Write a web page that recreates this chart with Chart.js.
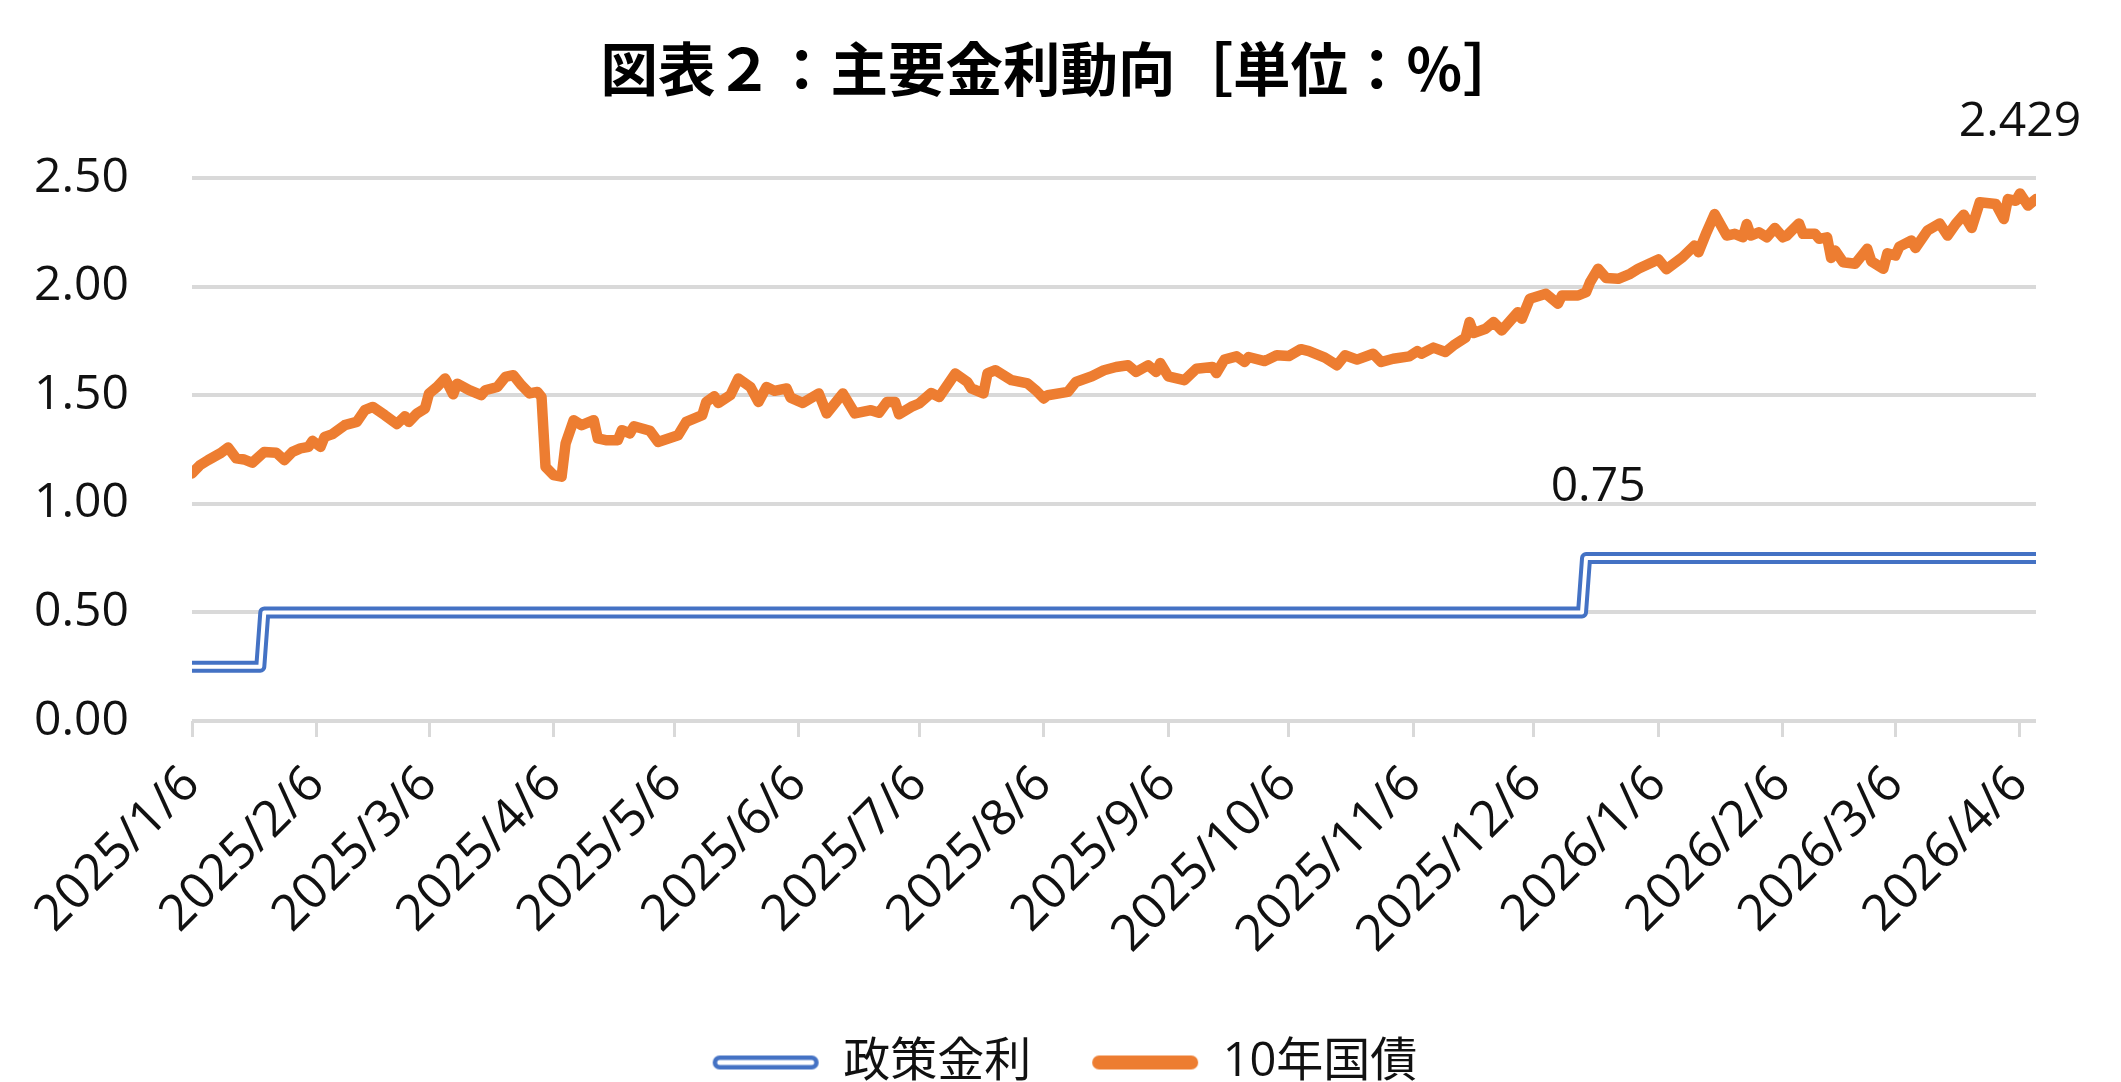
<!DOCTYPE html>
<html lang="ja">
<head>
<meta charset="utf-8">
<title>図表２：主要金利動向</title>
<script src="https://cdn.jsdelivr.net/npm/chart.js@4.4.1/dist/chart.umd.min.js"></script>
<style>
  html, body { margin: 0; padding: 0; background: #fff; }
  #wrap { width: 2121px; height: 1082px; position: relative; }
</style>
</head>
<body>
<div id="wrap"><canvas id="myChart"></canvas></div>
<script>
// 10年国債利回り
const jgbDates = [
  '2025-01-06','2025-01-08','2025-01-10','2025-01-13','2025-01-15','2025-01-17','2025-01-19','2025-01-21',
  '2025-01-24','2025-01-27','2025-01-29','2025-01-31','2025-02-02','2025-02-04','2025-02-05','2025-02-07',
  '2025-02-08','2025-02-10','2025-02-13','2025-02-16','2025-02-18','2025-02-20','2025-02-23','2025-02-26',
  '2025-02-28','2025-03-01','2025-03-03','2025-03-05','2025-03-06','2025-03-08','2025-03-10','2025-03-12',
  '2025-03-13','2025-03-16','2025-03-19','2025-03-20','2025-03-23','2025-03-25','2025-03-27','2025-03-29',
  '2025-03-31','2025-04-02','2025-04-03','2025-04-04','2025-04-06','2025-04-08','2025-04-09','2025-04-11',
  '2025-04-13','2025-04-16','2025-04-17','2025-04-19','2025-04-22','2025-04-23','2025-04-25','2025-04-26',
  '2025-04-30','2025-05-02','2025-05-07','2025-05-09','2025-05-13','2025-05-14','2025-05-16','2025-05-17',
  '2025-05-20','2025-05-22','2025-05-25','2025-05-27','2025-05-29','2025-05-31','2025-06-03','2025-06-04',
  '2025-06-07','2025-06-11','2025-06-13','2025-06-17','2025-06-20','2025-06-24','2025-06-26','2025-06-28',
  '2025-06-30','2025-07-01','2025-07-04','2025-07-06','2025-07-09','2025-07-11','2025-07-15','2025-07-18',
  '2025-07-19','2025-07-22','2025-07-23','2025-07-25','2025-07-29','2025-08-02','2025-08-04','2025-08-06',
  '2025-08-07','2025-08-12','2025-08-14','2025-08-18','2025-08-21','2025-08-24','2025-08-27','2025-08-29',
  '2025-09-01','2025-09-03','2025-09-04','2025-09-06','2025-09-10','2025-09-13','2025-09-17','2025-09-18',
  '2025-09-20','2025-09-23','2025-09-25','2025-09-26','2025-09-30','2025-10-03','2025-10-06','2025-10-09',
  '2025-10-11','2025-10-15','2025-10-18','2025-10-20','2025-10-23','2025-10-27','2025-10-29','2025-11-01',
  '2025-11-05','2025-11-07','2025-11-08','2025-11-11','2025-11-14','2025-11-16','2025-11-19','2025-11-20',
  '2025-11-21','2025-11-24','2025-11-26','2025-11-28','2025-12-02','2025-12-03','2025-12-05','2025-12-09',
  '2025-12-12','2025-12-13','2025-12-17','2025-12-19','2025-12-20','2025-12-22','2025-12-24','2025-12-27',
  '2025-12-30','2026-01-01','2026-01-06','2026-01-08','2026-01-12','2026-01-15','2026-01-16','2026-01-18',
  '2026-01-20','2026-01-23','2026-01-25','2026-01-27','2026-01-28','2026-01-29','2026-01-31','2026-02-02',
  '2026-02-04','2026-02-06','2026-02-07','2026-02-10','2026-02-11','2026-02-14','2026-02-15','2026-02-17',
  '2026-02-18','2026-02-19','2026-02-21','2026-02-24','2026-02-27','2026-02-28','2026-03-03','2026-03-04',
  '2026-03-06','2026-03-07','2026-03-10','2026-03-11','2026-03-14','2026-03-17','2026-03-19','2026-03-21',
  '2026-03-23','2026-03-25','2026-03-27','2026-03-31','2026-04-02','2026-04-03','2026-04-05','2026-04-06',
  '2026-04-08','2026-04-10'
];
const jgbValues = [
  1.140, 1.178, 1.201, 1.232, 1.259, 1.209, 1.204, 1.189,
  1.239, 1.235, 1.201, 1.239, 1.255, 1.262, 1.290, 1.262,
  1.308, 1.321, 1.362, 1.377, 1.431, 1.446, 1.408, 1.367,
  1.403, 1.377, 1.416, 1.439, 1.508, 1.538, 1.577, 1.504,
  1.553, 1.523, 1.500, 1.523, 1.538, 1.584, 1.592, 1.546,
  1.508, 1.515, 1.492, 1.170, 1.132, 1.125, 1.278, 1.385,
  1.362, 1.385, 1.301, 1.293, 1.293, 1.339, 1.324, 1.357,
  1.336, 1.285, 1.316, 1.377, 1.408, 1.469, 1.495, 1.464,
  1.500, 1.577, 1.538, 1.469, 1.538, 1.520, 1.531, 1.489,
  1.464, 1.508, 1.416, 1.508, 1.416, 1.431, 1.419, 1.469,
  1.469, 1.412, 1.446, 1.462, 1.510, 1.492, 1.600, 1.561,
  1.531, 1.508, 1.600, 1.615, 1.569, 1.554, 1.523, 1.485,
  1.500, 1.515, 1.561, 1.587, 1.615, 1.630, 1.638, 1.607,
  1.638, 1.607, 1.648, 1.587, 1.569, 1.622, 1.630, 1.602,
  1.664, 1.679, 1.653, 1.676, 1.657, 1.684, 1.680, 1.712,
  1.703, 1.673, 1.638, 1.684, 1.664, 1.691, 1.653, 1.668,
  1.679, 1.703, 1.691, 1.719, 1.699, 1.729, 1.765, 1.837,
  1.786, 1.806, 1.837, 1.798, 1.882, 1.852, 1.944, 1.967,
  1.921, 1.959, 1.959, 1.974, 2.020, 2.082, 2.040, 2.036,
  2.059, 2.082, 2.125, 2.080, 2.135, 2.189, 2.158, 2.250,
  2.334, 2.235, 2.243, 2.227, 2.288, 2.235, 2.250, 2.227,
  2.270, 2.227, 2.235, 2.291, 2.243, 2.243, 2.220, 2.227,
  2.132, 2.166, 2.112, 2.105, 2.174, 2.117, 2.082, 2.153,
  2.143, 2.184, 2.212, 2.178, 2.258, 2.291, 2.235, 2.288,
  2.331, 2.270, 2.388, 2.380, 2.311, 2.403, 2.395, 2.429,
  2.373, 2.403
];

// 政策金利
const policyDates = ['2025-01-06', '2025-01-23', '2025-01-24', '2025-12-18', '2025-12-19', '2025-12-22', '2026-04-10'];
const policyValues = [0.25, 0.25, 0.50, 0.50, 0.75, 0.75, 0.75];

// x axis ticks
const tickDates = [
  '2025-01-06','2025-02-06','2025-03-06','2025-04-06','2025-05-06','2025-06-06','2025-07-06','2025-08-06',
  '2025-09-06','2025-10-06','2025-11-06','2025-12-06','2026-01-06','2026-02-06','2026-03-06','2026-04-06'
];
const tickLabels = [
  '2025/1/6','2025/2/6','2025/3/6','2025/4/6','2025/5/6','2025/6/6','2025/7/6','2025/8/6',
  '2025/9/6','2025/10/6','2025/11/6','2025/12/6','2026/1/6','2026/2/6','2026/3/6','2026/4/6'
];

const seriesNames = ['政策金利', '10年国債'];
const titleText = '図表２：主要金利動向［単位：％］';

const BLUE = '#4472C4';
const ORANGE = '#ED7D31';
const GRID = '#d9d9d9';
const TEXT = '#111111';
const FONT = '"Open Sans", "Noto Sans CJK JP", sans-serif';

function dayOf(s) {
  const p = s.split('-').map(Number);
  return (Date.UTC(p[0], p[1] - 1, p[2]) - Date.UTC(2025, 0, 6)) / 86400000;
}

const jgbPoints = jgbDates.map((d, i) => ({ x: dayOf(d), y: jgbValues[i] }));
const policyPoints = policyDates.map((d, i) => ({ x: dayOf(d), y: policyValues[i] }));

// legend markers: double blue line, thick orange line
function legendLine(outer, inner) {
  const c = document.createElement('canvas');
  c.width = 116;
  c.height = 18;
  const g = c.getContext('2d');
  g.lineCap = 'round';
  g.strokeStyle = outer;
  g.lineWidth = 14;
  g.beginPath(); g.moveTo(16, 9); g.lineTo(108, 9); g.stroke();
  if (inner) {
    g.strokeStyle = inner;
    g.lineWidth = 5;
    g.beginPath(); g.moveTo(16, 9); g.lineTo(108, 9); g.stroke();
  }
  return c;
}
const legendMarks = [legendLine(BLUE, '#ffffff'), legendLine(ORANGE, null)];

// value labels above chosen points
const maxIdx = jgbValues.indexOf(Math.max(...jgbValues));
const valueLabels = [
  { dataset: 0, index: 5, text: policyValues[5].toFixed(2) },
  { dataset: 2, index: maxIdx, text: String(jgbValues[maxIdx]) }
];
const valueLabelPlugin = {
  id: 'valueLabels',
  afterDatasetsDraw(chart) {
    const ctx = chart.ctx;
    ctx.save();
    ctx.font = '48px ' + FONT;
    ctx.fillStyle = TEXT;
    ctx.textAlign = 'center';
    ctx.textBaseline = 'middle';
    for (const lab of valueLabels) {
      const pt = chart.getDatasetMeta(lab.dataset).data[lab.index];
      ctx.fillText(lab.text, pt.x, pt.y - 71);
    }
    ctx.restore();
  }
};

const ctx = document.getElementById('myChart').getContext('2d');
const myChart = new Chart(ctx, {
  type: 'line',
  data: {
    datasets: [
      {
        label: seriesNames[0],
        data: policyPoints,
        borderColor: BLUE,
        borderWidth: 12,
        pointRadius: 0,
        borderCapStyle: 'round',
        borderJoinStyle: 'round',
        fill: false,
        order: 2,
      },
      {
        // white core for the double line
        label: 'inner',
        data: policyPoints,
        borderColor: '#ffffff',
        borderWidth: 4,
        pointRadius: 0,
        borderCapStyle: 'round',
        borderJoinStyle: 'round',
        fill: false,
        order: 1,
      },
      {
        label: seriesNames[1],
        data: jgbPoints,
        borderColor: ORANGE,
        borderWidth: 10.5,
        pointRadius: 0,
        borderCapStyle: 'round',
        borderJoinStyle: 'round',
        fill: false,
        order: 3,
      },
    ],
  },
  options: {
    responsive: true,
    maintainAspectRatio: false,
    animation: false,
    layout: { padding: { left: 0, right: 0, top: 0, bottom: -14 } },
    plugins: {
      title: {
        display: true,
        text: titleText,
        color: '#000000',
        font: { family: '"Noto Sans CJK JP", sans-serif', size: 57.5, weight: 'bold', lineHeight: 1.2 },
        padding: { top: 35, bottom: 74 },
      },
      legend: {
        display: true,
        position: 'bottom',
        labels: {
          color: TEXT,
          font: { family: FONT, size: 47 },
          usePointStyle: true,
          boxWidth: 116,
          pointStyleWidth: 116,
          padding: 52,
          generateLabels: (chart) => [0, 2].map((di, k) => ({
            text: seriesNames[k],
            datasetIndex: di,
            pointStyle: legendMarks[k],
            fontColor: TEXT,
            lineWidth: 0,
            strokeStyle: 'transparent',
            fillStyle: 'transparent',
          })),
        },
      },
      tooltip: { enabled: false },
    },
    scales: {
      x: {
        type: 'linear',
        min: dayOf(jgbDates[0]),
        max: dayOf(jgbDates[jgbDates.length - 1]),
        afterBuildTicks: (scale) => {
          scale.ticks = tickDates.map((d) => ({ value: dayOf(d) }));
        },
        afterFit: (scale) => {
          scale.height = 266;
        },
        grid: {
          display: true,
          drawOnChartArea: false,
          drawTicks: true,
          tickLength: 16,
          color: GRID,
          lineWidth: 3,
        },
        border: { display: false },
        ticks: {
          autoSkip: false,
          minRotation: 45,
          maxRotation: 45,
          padding: 18,
          color: TEXT,
          font: { family: FONT, size: 50 },
          callback: (value, index) => tickLabels[index],
        },
      },
      y: {
        min: 0,
        max: 2.5,
        afterFit: (scale) => {
          scale.width = 192;
        },
        grid: {
          color: GRID,
          lineWidth: 4,
          drawTicks: false,
        },
        border: { display: false },
        ticks: {
          stepSize: 0.5,
          padding: 63,
          color: TEXT,
          font: { family: FONT, size: 48 },
          callback: (value) => value.toFixed(2),
        },
      },
      yRight: {
        position: 'right',
        afterFit: (scale) => {
          scale.width = 85;
        },
        grid: { display: false },
        border: { display: false },
        ticks: { display: false },
      },
    },
  },
  plugins: [valueLabelPlugin],
});
</script>
</body>
</html>
